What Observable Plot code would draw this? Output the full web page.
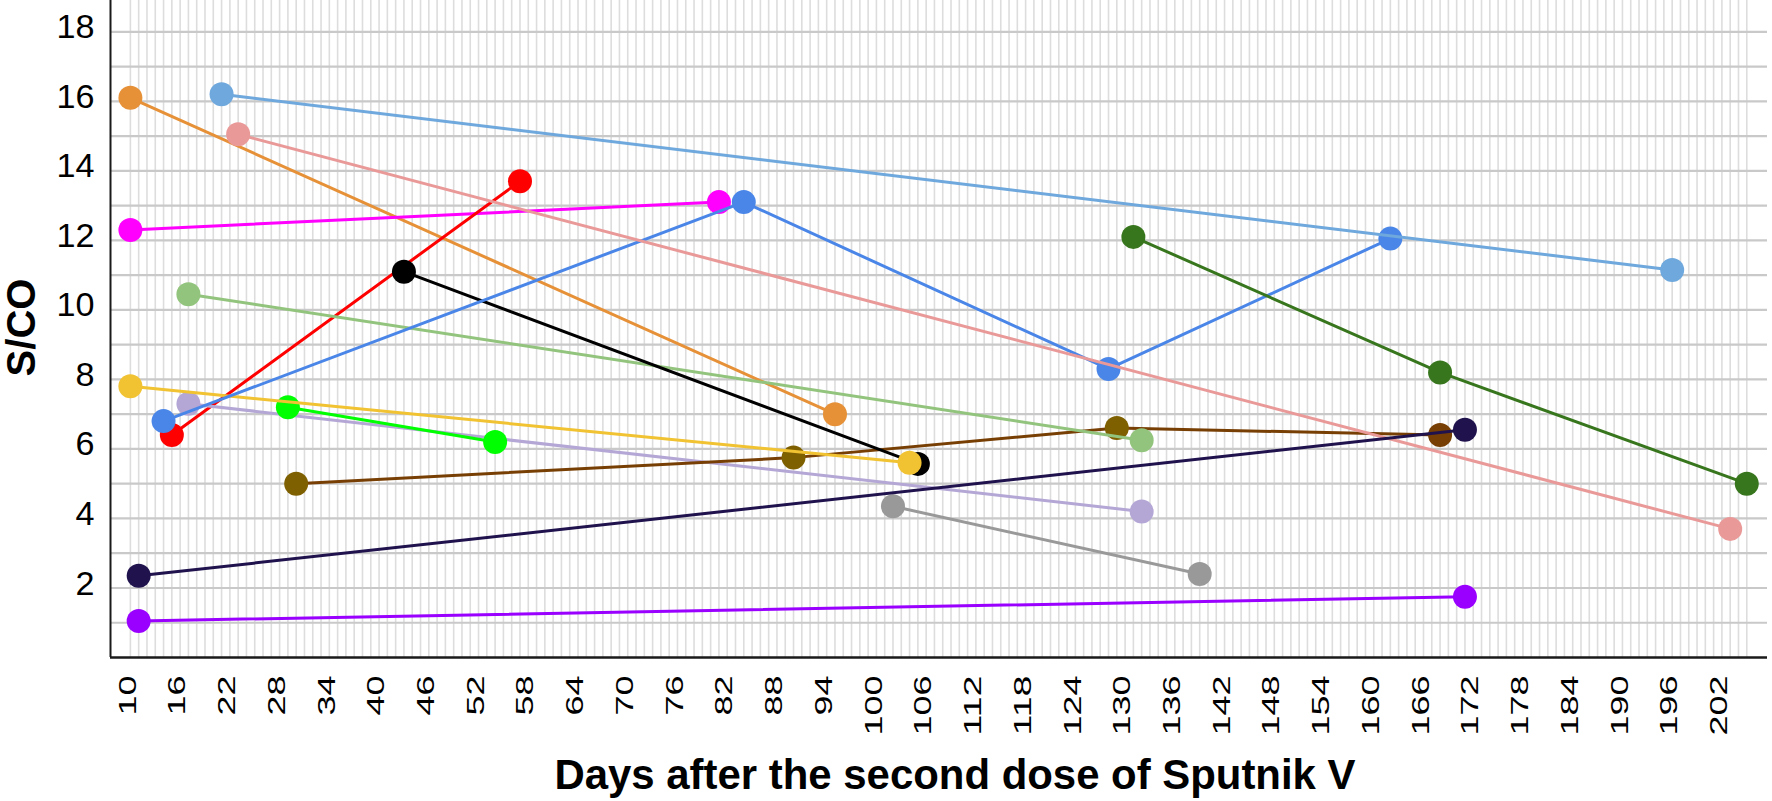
<!DOCTYPE html>
<html>
<head>
<meta charset="utf-8">
<script src="https://cdn.jsdelivr.net/npm/d3@7"></script>
<script src="https://cdn.jsdelivr.net/npm/@observablehq/plot@0.6"></script>
<style>
  html, body { margin: 0; padding: 0; background: #ffffff; }
  #chart svg { display: block; }
</style>
</head>
<body>
<div id="chart"></div>
<script>
// ---- data ----
const seriesNames = ["orange", "magenta", "red", "lavender", "bright green", "brown",
  "light green", "black", "yellow", "gray", "blue", "pink", "light blue", "dark green", "navy", "purple"];
const seriesDays = [
  [10, 95],
  [10, 81],
  [15, 57],
  [17, 132],
  [29, 54],
  [30, 90, 129, 168],
  [17, 132],
  [43, 105],
  [10, 104],
  [102, 139],
  [14, 84, 128, 162],
  [23, 203],
  [21, 196],
  [131, 168, 205],
  [11, 171],
  [11, 171]
];
const seriesSCO = [
  [16.1, 7.0],
  [12.3, 13.1],
  [6.4, 13.7],
  [7.3, 4.2],
  [7.2, 6.2],
  [5.0, 5.75, 6.6, 6.4],
  [10.45, 6.25],
  [11.1, 5.57],
  [7.8, 5.6],
  [4.35, 2.4],
  [6.8, 13.1, 8.3, 12.05],
  [15.05, 3.7],
  [16.2, 11.15],
  [12.1, 8.2, 5.0],
  [2.35, 6.55],
  [1.05, 1.75]
];
const xTickValues = d3.range(10, 203, 6);
const yTickValues = [2, 4, 6, 8, 10, 12, 14, 16, 18];
const yGridValues = d3.range(1, 19);
const xGridDays = d3.range(10, 206);

// ---- styles ----
const lineColors = ["#e69138", "#ff00ff", "#ff0000", "#b4a7d6", "#00ff00", "#783f04",
  "#93c47d", "#000000", "#f1c232", "#999999", "#4a86e8", "#ea9999", "#6fa8dc", "#38761d", "#20124d", "#9900ff"];
const dotColors = ["#e69138", "#ff00ff", "#ff0000", "#b4a7d6", "#00ff00",
  ["#7f6000", "#7f6000", "#7f6000", "#783f04"],
  "#93c47d", "#000000", "#f1c232", "#999999", "#4a86e8", "#ea9999", "#6fa8dc", "#38761d", "#20124d", "#9900ff"];

const FONT = "'Liberation Sans', Arial, Helvetica, sans-serif";

const seriesMarks = [];
seriesNames.forEach((name, i) => {
  const rows = seriesDays[i].map((d, j) => ({
    series: name,
    day: d,
    sco: seriesSCO[i][j],
    color: Array.isArray(dotColors[i]) ? dotColors[i][j] : dotColors[i]
  }));
  seriesMarks.push(Plot.line(rows, {x: "day", y: "sco", stroke: lineColors[i], strokeWidth: 3}));
  seriesMarks.push(Plot.dot(rows, {x: "day", y: "sco", r: 12, fill: "color", stroke: "none"}));
});

const chart = Plot.plot({
  width: 1772,
  height: 801,
  marginLeft: 110,
  marginRight: 5,
  marginTop: 0,
  marginBottom: 144,
  style: {fontFamily: FONT, background: "#ffffff", color: "#000000"},
  x: {domain: [7.6, 207.5], axis: null},
  y: {domain: [0, 18.9], axis: null},
  color: {type: "identity"},
  marks: [
    Plot.ruleX(xGridDays, {stroke: "#dddddd", strokeWidth: 1.6}),
    Plot.ruleY(yGridValues, {stroke: "#c9c9c9", strokeWidth: 2.2}),
    Plot.ruleX([7.6], {stroke: "#1a1a1a", strokeWidth: 2}),
    Plot.ruleY([0], {stroke: "#1a1a1a", strokeWidth: 2.6}),
    Plot.text(yTickValues, {
      y: d => d, frameAnchor: "left", textAnchor: "end", lineAnchor: "middle",
      dx: -16, dy: -4, fontSize: 33, fill: "#000"
    }),
    Plot.text(xTickValues, {
      x: d => d, frameAnchor: "bottom", rotate: -90, textAnchor: "end", lineAnchor: "middle",
      dy: 18, dx: -2.5, fontSize: 24, fill: "#000"
    }),
    ...seriesMarks
  ]
});

document.getElementById("chart").appendChild(chart);

// stretch the tick labels like the reference
d3.select(chart).selectAll("text").each(function () {
  const t = (this.textContent || "").trim();
  if (!/^\d+$/.test(t)) return;
  const tr = this.getAttribute("transform") || "";
  if (tr.indexOf("rotate") >= 0) {
    this.setAttribute("textLength", t.length * 20);
  } else {
    this.setAttribute("textLength", t.length * 19);
  }
  this.setAttribute("lengthAdjust", "spacingAndGlyphs");
});

// axis titles
const svg = d3.select(chart);
svg.append("text")
  .attr("x", 955).attr("y", 789)
  .attr("text-anchor", "middle")
  .attr("font-family", FONT).attr("font-size", 42).attr("font-weight", "bold")
  .attr("textLength", 801).attr("lengthAdjust", "spacingAndGlyphs")
  .attr("fill", "#000")
  .text("Days after the second dose of Sputnik V");
svg.append("text")
  .attr("transform", "translate(21,327.5) rotate(-90)")
  .attr("text-anchor", "middle").attr("dominant-baseline", "central")
  .attr("font-family", FONT).attr("font-size", 40).attr("font-weight", "bold")
  .attr("fill", "#000")
  .text("S/CO");
</script>
</body>
</html>
